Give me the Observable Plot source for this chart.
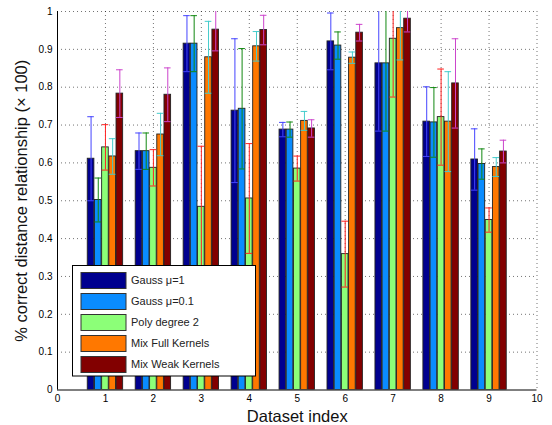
<!DOCTYPE html>
<html>
<head>
<meta charset="utf-8">
<script src="https://cdn.jsdelivr.net/npm/d3@7"></script>
<script src="https://cdn.jsdelivr.net/npm/@observablehq/plot@0.6"></script>
<style>
  html, body { margin: 0; padding: 0; background: #fff; }
  #chart { position: relative; width: 552px; height: 425px; }
  svg { font-family: "Liberation Sans", Arial, Helvetica, sans-serif; }
</style>
</head>
<body>
<div id="chart"></div>
<script>
const datasets = [1, 2, 3, 4, 5, 6, 7, 8, 9];
const seriesNames = ["Gauss \u03bc=1", "Gauss \u03bc=0.1", "Poly degree 2", "Mix Full Kernels", "Mix Weak Kernels"];
const barColors = ["#00008f", "#0a8cff", "#8cff78", "#ff7800", "#820000"];
const errColors = ["#4444ff", "#118811", "#ff2222", "#44cccc", "#cc44cc"];

const gauss1     = [0.611, 0.631, 0.915, 0.738, 0.688, 0.921, 0.863, 0.709, 0.609];
const gauss1Err  = [0.111, 0.048, 0.074, 0.190, 0.019, 0.075, 0.179, 0.092, 0.081];
const gauss01    = [0.502, 0.631, 0.915, 0.743, 0.688, 0.910, 0.863, 0.707, 0.597];
const gauss01Err = [0.058, 0.048, 0.074, 0.159, 0.020, 0.036, 0.179, 0.092, 0.040];
const poly       = [0.641, 0.587, 0.484, 0.506, 0.585, 0.359, 0.928, 0.721, 0.449];
const polyErr    = [0.060, 0.048, 0.160, 0.145, 0.033, 0.087, 0.154, 0.127, 0.032];
const mixFull    = [0.617, 0.675, 0.879, 0.908, 0.711, 0.878, 0.956, 0.709, 0.589];
const mixFullErr = [0.047, 0.056, 0.095, 0.039, 0.025, 0.015, 0.084, 0.132, 0.025];
const mixWeak    = [0.783, 0.780, 0.952, 0.951, 0.691, 0.944, 0.981, 0.810, 0.630];
const mixWeakErr = [0.063, 0.071, 0.056, 0.039, 0.023, 0.022, 0.035, 0.118, 0.030];

const xTicks = [0, 1, 2, 3, 4, 5, 6, 7, 8, 9, 10];
const yTicks = [0, 0.1, 0.2, 0.3, 0.4, 0.5, 0.6, 0.7, 0.8, 0.9, 1];

const values = [gauss1, gauss01, poly, mixFull, mixWeak];
const errs = [gauss1Err, gauss01Err, polyErr, mixFullErr, mixWeakErr];

const groupWidth = 0.75;
const slot = groupWidth / seriesNames.length;
const barHalf = slot * 0.46;

const rows = [];
seriesNames.forEach((name, s) => {
  datasets.forEach((d, i) => {
    const cx = d - groupWidth / 2 + slot * (s + 0.5);
    rows.push({
      series: name, s, dataset: d, cx,
      x1: cx - barHalf, x2: cx + barHalf,
      value: values[s][i], err: errs[s][i],
      lo: values[s][i] - errs[s][i], hi: values[s][i] + errs[s][i]
    });
  });
});

const W = 552, H = 425;
const plot = Plot.plot({
  width: W, height: H,
  marginLeft: 57, marginRight: 15.5, marginTop: 11, marginBottom: 35.5,
  x: { domain: [0, 10], ticks: xTicks },
  y: { domain: [0, 1], ticks: yTicks },
  style: { fontFamily: "Liberation Sans, Arial, sans-serif", fontSize: "10px", background: "#fff" },
  marks: [
    Plot.ruleY(yTicks.filter(v => v > 0), { stroke: "#000", strokeOpacity: 0.55, strokeDasharray: "1,3" }),
    Plot.ruleX(xTicks.filter(v => v > 0), { stroke: "#000", strokeOpacity: 0.55, strokeDasharray: "1,3" }),
    Plot.rectY(rows, {
      x1: "x1", x2: "x2", y1: 0, y2: "value",
      fill: d => barColors[d.s], stroke: "#222", strokeWidth: 0.9, clip: true
    }),
    Plot.ruleX(rows, { x: "cx", y1: "lo", y2: "hi", stroke: d => errColors[d.s], strokeWidth: 1, clip: true }),
    Plot.ruleY(rows, { y: "hi", x1: "x1", x2: "x2", stroke: d => errColors[d.s], strokeWidth: 1, clip: true }),
    Plot.ruleY(rows, { y: "lo", x1: "x1", x2: "x2", stroke: d => errColors[d.s], strokeWidth: 1, clip: true }),
    Plot.ruleX([0], { stroke: "#000", strokeWidth: 1 }),
    Plot.ruleY([0], { stroke: "#000", strokeWidth: 1 }),
    Plot.axisX({ ticks: xTicks, tickSize: 0, tickPadding: 5, label: null, fontSize: 10 }),
    Plot.axisX({ ticks: [], tickSize: 0, label: "Dataset index", labelAnchor: "center", labelArrow: "none", labelOffset: 32, fontSize: 16.5, fill: "#111" }),
    Plot.axisY({ ticks: yTicks, tickSize: 0, tickPadding: 5, label: null, fontSize: 10, tickFormat: d => String(+d.toFixed(1)) }),
    Plot.axisY({ ticks: [], tickSize: 0, label: "% correct distance relationship (\u00d7 100)", labelAnchor: "center", labelArrow: "none", labelOffset: 42, fontSize: 16.5, fill: "#111" })
  ]
});

document.getElementById("chart").appendChild(plot);

// Legend drawn into the SVG
const svg = d3.select(plot);
const lg = svg.append("g").attr("transform", "translate(72.5,265.5)").attr("text-anchor", "start");
lg.append("rect").attr("width", 183).attr("height", 110.5)
  .attr("fill", "#fff").attr("stroke", "#000").attr("stroke-width", 1);
seriesNames.forEach((name, i) => {
  const cy = 15 + i * 21;
  lg.append("rect").attr("x", 8.5).attr("y", cy - 8).attr("width", 45).attr("height", 16)
    .attr("fill", barColors[i]).attr("stroke", "#333").attr("stroke-width", 1);
  lg.append("text").attr("x", 58.5).attr("y", cy).attr("dy", "0.35em")
    .attr("text-anchor", "start")
    .attr("font-size", 11).attr("fill", "#222").text(name);
});
</script>
</body>
</html>
